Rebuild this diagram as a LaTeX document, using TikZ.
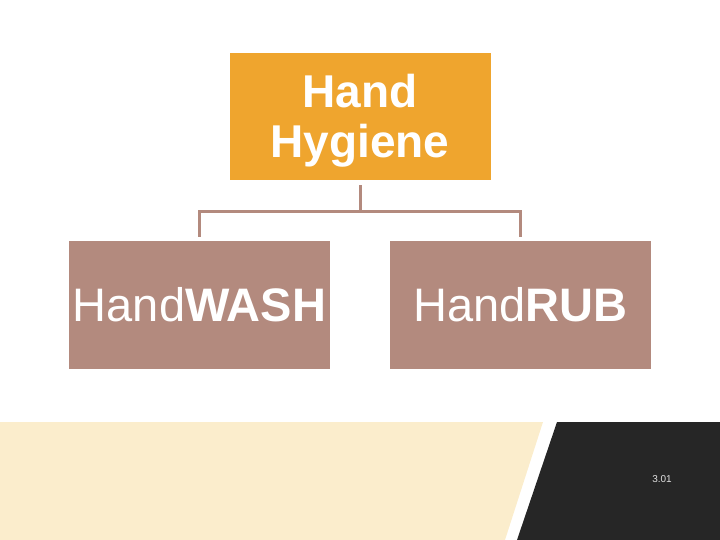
\documentclass[tikz,border=0pt]{standalone}
\usepackage{fontspec}
\setmainfont{Liberation Sans}
\usepackage{tikz}
\usetikzlibrary{positioning}
\definecolor{myorange}{RGB}{239,165,46}
\definecolor{myrose}{RGB}{179,138,126}
\definecolor{mycream}{RGB}{251,237,204}
\definecolor{mydark}{RGB}{38,38,38}
\definecolor{mygrey}{RGB}{225,225,225}

\begin{document}
\begin{tikzpicture}[x=1pt,y=-1pt,
    box/.style={minimum width=261pt,minimum height=128pt,inner sep=0pt,text=white,align=center,font=\fontsize{47}{50}\selectfont},
    conn/.style={draw=myrose,line width=3pt}]
    \useasboundingbox (0,0) rectangle (720,540);

    % Bottom band
    \fill[mycream] (0,422) -- (543,422) -- (505,540) -- (0,540) -- cycle;
    \fill[mydark] (557,422) -- (720,422) -- (720,540) -- (517,540) -- cycle;
    \node[mygrey,font=\fontsize{10}{12}\selectfont] (page) at (662,479) {3.01};

    % Boxes
    \node[box,fill=myorange,minimum height=127pt,font=\fontsize{46}{50}\selectfont] (hygiene) at (360,116.5) {\bfseries\rule{0pt}{41pt}Hand\\\bfseries Hygiene};
    \node[box,fill=myrose] (wash) at (199.5,305) {Hand\textbf{WASH}};
    \node[box,fill=myrose] (rub) at (520.5,305) {Hand\textbf{RUB}};

    % Connectors
    \coordinate (branch) at ([yshift=-31pt]hygiene.south);
    \draw[conn,shorten <=5pt] (hygiene.south) -- (branch);
    \draw[conn,shorten >=4pt] (branch) -| (wash.north);
    \draw[conn,shorten >=4pt] (branch) -| (rub.north);
\end{tikzpicture}
\end{document}
